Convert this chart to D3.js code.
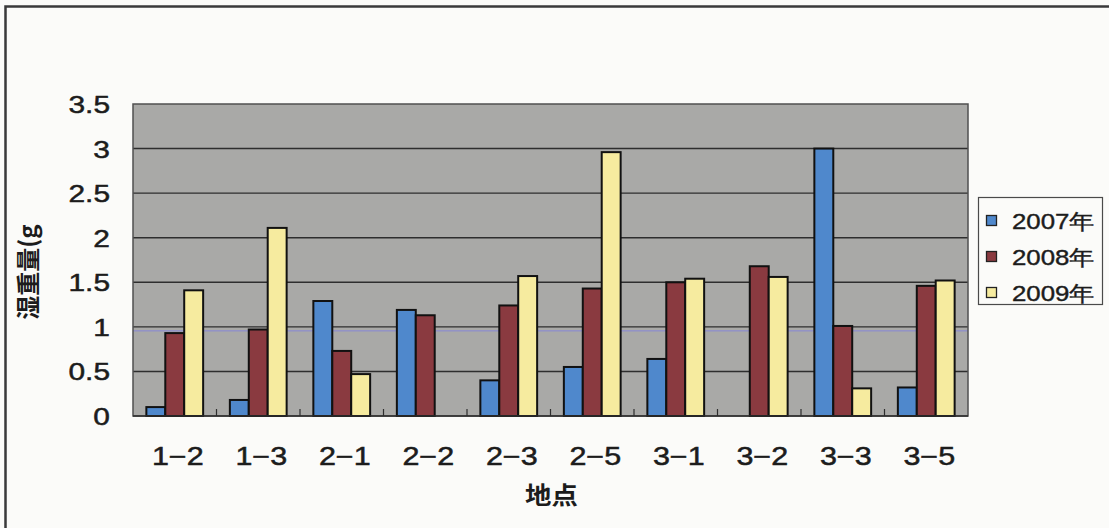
<!DOCTYPE html>
<html>
<head>
<meta charset="utf-8">
<script src="https://cdn.jsdelivr.net/npm/d3@7/dist/d3.min.js"></script>
<style>
  html, body { margin: 0; padding: 0; background: #fbfbf9; }
  svg { display: block; }
</style>
</head>
<body>
<svg id="chart" width="1109" height="528"></svg>
<script>
// Sampling sites and yearly wet weight (g)
const sites = ["1−2", "1−3", "2−1", "2−2", "2−3", "2−5", "3−1", "3−2", "3−3", "3−5"];
const seriesNames = ["2007年", "2008年", "2009年"];
const values2007 = [0.10, 0.18, 1.29, 1.19, 0.40, 0.55, 0.64, 0, 3.00, 0.32];
const values2008 = [0.93, 0.97, 0.73, 1.13, 1.24, 1.43, 1.50, 1.68, 1.01, 1.46];
const values2009 = [1.41, 2.11, 0.47, 0, 1.57, 2.96, 1.54, 1.56, 0.31, 1.52];
const yTicks = [0, 0.5, 1, 1.5, 2, 2.5, 3, 3.5];
const yTickLabels = ["0", "0.5", "1", "1.5", "2", "2.5", "3", "3.5"];
const colors = ["#4f88cc", "#8a3a40", "#f6eb9f"];

const seriesValues = [values2007, values2008, values2009];
const rows = sites.map((s, i) => ({
  site: s,
  vals: seriesNames.map((n, k) => ({ key: n, k, v: seriesValues[k][i] }))
}));

const svg = d3.select("#chart");
const plot = { left: 133, right: 968, top: 104, bottom: 416 };
const textFont = "'Liberation Sans', Arial, sans-serif";
const cjkFont = "'Noto Sans CJK JP', 'Noto Sans CJK SC', sans-serif";
const inkColor = "#1c1c1c";

// outer frame of the figure
svg.append("path")
  .attr("d", `M5.5,528 V6.5 H1109`)
  .attr("fill", "none").attr("stroke", "#3a3a3a").attr("stroke-width", 2.5);

const x0 = d3.scaleBand().domain(sites)
  .range([plot.left, plot.right]).paddingInner(0.32).paddingOuter(0.16);
const x1 = d3.scaleBand().domain(seriesNames).range([0, x0.bandwidth()]);
const y = d3.scaleLinear().domain([0, 3.5]).range([plot.bottom, plot.top]);

// plot background
svg.append("rect")
  .attr("x", plot.left).attr("y", plot.top)
  .attr("width", plot.right - plot.left).attr("height", plot.bottom - plot.top)
  .attr("fill", "#a9a9a7");

// horizontal gridlines
svg.append("g").selectAll("line")
  .data(yTicks.filter(t => t > 0 && t < 3.5))
  .join("line")
  .attr("x1", plot.left).attr("x2", plot.right)
  .attr("y1", d => y(d)).attr("y2", d => y(d))
  .attr("stroke", "#2e2e2e").attr("stroke-width", 1.4);

// faint ruled line crossing the plot
svg.append("line")
  .attr("x1", plot.left).attr("x2", plot.right)
  .attr("y1", y(0.955)).attr("y2", y(0.955))
  .attr("stroke", "#6a6aff").attr("stroke-opacity", 0.55).attr("stroke-width", 1);

// plot border
svg.append("rect")
  .attr("x", plot.left).attr("y", plot.top)
  .attr("width", plot.right - plot.left).attr("height", plot.bottom - plot.top)
  .attr("fill", "none").attr("stroke", "#505050").attr("stroke-width", 1.5);

// bars
const groups = svg.append("g").selectAll("g")
  .data(rows).join("g")
  .attr("transform", d => `translate(${x0(d.site)},0)`);

groups.selectAll("rect")
  .data(d => d.vals.filter(o => o.v > 0))
  .join("rect")
  .attr("x", d => x1(d.key))
  .attr("y", d => y(d.v))
  .attr("width", x1.bandwidth())
  .attr("height", d => y(0) - y(d.v))
  .attr("fill", d => colors[d.k])
  .attr("stroke", "#111").attr("stroke-width", 2);

// category boundary ticks on the baseline
const step = x0.step();
svg.append("g").selectAll("line")
  .data(sites.slice(1))
  .join("line")
  .attr("x1", d => x0(d) - x0.paddingInner() * step / 2)
  .attr("x2", d => x0(d) - x0.paddingInner() * step / 2)
  .attr("y1", plot.bottom).attr("y2", plot.bottom - 7)
  .attr("stroke", "#2e2e2e").attr("stroke-width", 1.2);

// baseline
svg.append("line")
  .attr("x1", plot.left).attr("x2", plot.right)
  .attr("y1", plot.bottom).attr("y2", plot.bottom)
  .attr("stroke", "#2e2e2e").attr("stroke-width", 1.6);

// y tick labels
svg.append("g").selectAll("text")
  .data(yTicks)
  .join("text")
  .attr("transform", (d) => `translate(110,${y(d) + 9}) scale(1.22,1)`)
  .attr("text-anchor", "end")
  .attr("font-family", textFont).attr("font-size", 24.5)
  .attr("fill", inkColor).attr("stroke", inkColor).attr("stroke-width", 0.5)
  .text((d, i) => yTickLabels[i]);

// x tick labels
svg.append("g").selectAll("text")
  .data(sites)
  .join("text")
  .attr("transform", d => `translate(${x0(d) + x0.bandwidth() / 2 + 3},465) scale(1.22,1)`)
  .attr("text-anchor", "middle")
  .attr("font-family", textFont).attr("font-size", 25)
  .attr("fill", inkColor).attr("stroke", inkColor).attr("stroke-width", 0.5)
  .text(d => d);

// axis titles
svg.append("text")
  .attr("transform", `translate(${(plot.left + plot.right) / 2 + 1},504) scale(1.1,1)`)
  .attr("text-anchor", "middle")
  .attr("font-family", cjkFont).attr("font-size", 24).attr("font-weight", 700)
  .attr("fill", inkColor)
  .text("地点");

svg.append("text")
  .attr("transform", `translate(37,272) rotate(-90)`)
  .attr("text-anchor", "middle")
  .attr("font-family", cjkFont).attr("font-size", 24).attr("font-weight", 700)
  .attr("fill", inkColor)
  .text("湿重量(g");

// legend
const legend = svg.append("g");
legend.append("rect")
  .attr("x", 978.5).attr("y", 197.5).attr("width", 124).attr("height", 107)
  .attr("fill", "#fbfbf9").attr("stroke", "#4a4a4a").attr("stroke-width", 1.2);

const items = legend.selectAll("g.item")
  .data(seriesNames).join("g")
  .attr("class", "item")
  .attr("transform", (d, i) => `translate(0,${221 + i * 36})`);

items.append("rect")
  .attr("x", 986.5).attr("y", -5.5).attr("width", 10).attr("height", 10)
  .attr("fill", (d, i) => colors[i])
  .attr("stroke", "#222").attr("stroke-width", 1.3);

items.append("text")
  .attr("transform", "translate(1012,8) scale(1.2,1)")
  .attr("font-family", textFont).attr("font-size", 21.5)
  .attr("fill", inkColor).attr("stroke", inkColor).attr("stroke-width", 0.4)
  .text(d => d);
</script>
</body>
</html>
